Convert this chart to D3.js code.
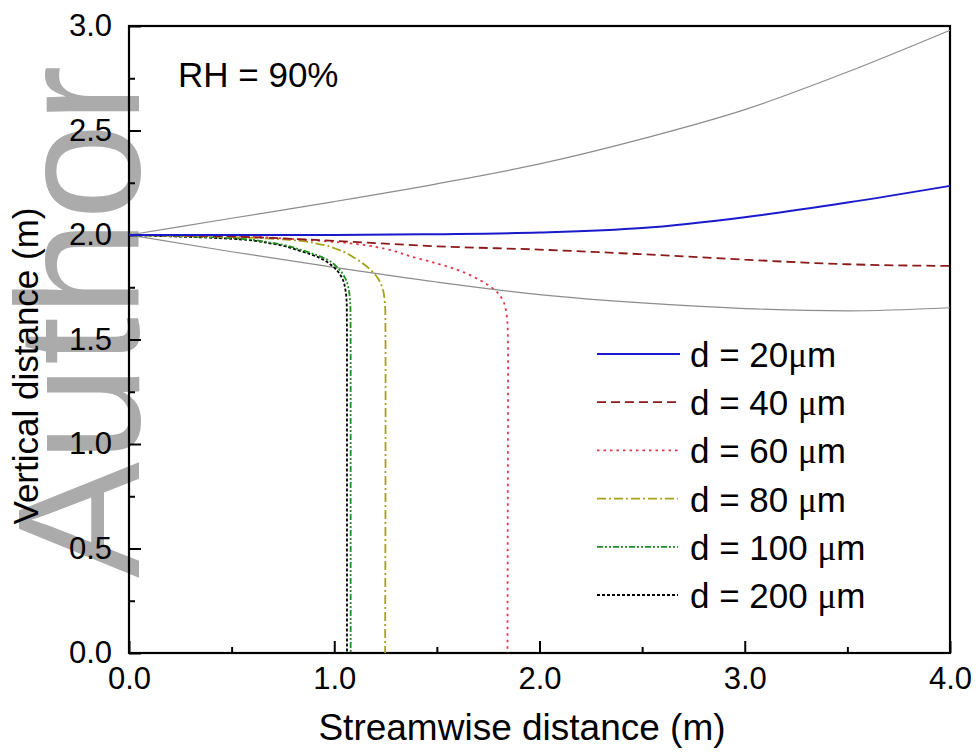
<html>
 <head>
  <meta charset="utf-8">
  <title>RH 90%</title>
  <script src="https://cdn.jsdelivr.net/npm/d3@7"></script>
  <style>
    body { margin: 0; background: #fff; font-family: "Liberation Sans", Arial, sans-serif; }
    svg text { font-family: "Liberation Sans", Arial, sans-serif; }
  </style>
 </head>
 <body>
  <div id="draw"></div>
  <script>
    // upper / lower gray bounds
    var upperX = [0, 0.5, 1.0, 1.5, 2.0, 2.5, 3.0, 3.5, 4.0];
    var upperY = [2.0, 2.08, 2.16, 2.245, 2.34, 2.46, 2.6, 2.78, 2.98];
    var lowerX = [0, 0.5, 1.0, 1.5, 2.0, 2.5, 3.0, 3.5, 4.0];
    var lowerY = [2.0, 1.92, 1.845, 1.775, 1.715, 1.675, 1.648, 1.637, 1.652];

    // trajectories per droplet size
    var sizes = ["d = 20", "d = 40 ", "d = 60 ", "d = 80 ", "d = 100 ", "d = 200 "];
    var d20x = [0, 0.5, 1.0, 1.5, 2.0, 2.5, 3.0, 3.5, 4.0];
    var d20y = [2.0, 2.0, 2.0, 2.004, 2.012, 2.033, 2.085, 2.155, 2.235];
    var d40x = [0, 0.5, 1.0, 1.5, 2.0, 2.5, 3.0, 3.5, 4.0];
    var d40y = [2.0, 1.993, 1.972, 1.946, 1.93, 1.908, 1.882, 1.86, 1.852];
    var d60x = [0, 0.5, 0.8, 1.08, 1.4, 1.6, 1.72, 1.785, 1.82, 1.838, 1.845, 1.847, 1.846, 1.844];
    var d60y = [2.0, 1.995, 1.98, 1.96, 1.89, 1.833, 1.778, 1.735, 1.69, 1.63, 1.55, 1.4, 1.0, 0];
    var d80x = [0, 0.5, 0.8, 0.92, 1.02, 1.1, 1.16, 1.2, 1.228, 1.243, 1.249, 1.25, 1.248];
    var d80y = [2.0, 1.99, 1.975, 1.958, 1.93, 1.89, 1.848, 1.81, 1.765, 1.71, 1.62, 1.3, 0];
    var d100x = [0, 0.5, 0.7, 0.85, 0.96, 1.02, 1.055, 1.072, 1.079, 1.08, 1.08];
    var d100y = [2.0, 1.985, 1.962, 1.925, 1.885, 1.84, 1.79, 1.73, 1.64, 1.4, 0];
    var d200x = [0, 0.5, 0.7, 0.83, 0.93, 0.995, 1.035, 1.054, 1.061, 1.062, 1.062];
    var d200y = [2.0, 1.982, 1.958, 1.925, 1.89, 1.848, 1.8, 1.74, 1.66, 1.4, 0];

    var xMajor = [0, 1, 2, 3, 4];
    var xMinor = [0.5, 1.5, 2.5, 3.5];
    var yMajor = [0, 0.5, 1, 1.5, 2, 2.5, 3];
    var yMinor = [0.25, 0.75, 1.25, 1.75, 2.25, 2.75];

    var colors = ["#1a1acc", "#8b1a1a", "#e8334a", "#a3a31a", "#1f8f1f", "#000000"];
    var dashes = ["none", "9,5", "2.5,4", "9,3,2,3", "6,2,2,2,2,2", "3,2"];

    var W = 979, H = 754;
    var L = 129, R = 950, T = 26, B = 653;

    var svg = d3.select('#draw').append('svg').attr('width', W).attr('height', H);

    // watermark behind everything
    svg.append('text')
      .attr('transform', 'translate(139,578) rotate(-90)')
      .attr('font-size', 174)
      .attr('fill', '#ababab')
      .text('Author');

    var x = d3.scaleLinear().domain([0, 4]).range([L, R]);
    var y = d3.scaleLinear().domain([0, 3]).range([B, T]);

    var fmt = d3.format('.1f');

    // minor ticks
    svg.append('g').attr('transform', 'translate(0,' + B + ')')
      .call(d3.axisBottom(x).tickValues(xMinor).tickSizeInner(-6).tickSizeOuter(0).tickFormat(''))
      .call(g => g.select('.domain').remove())
      .selectAll('line').attr('stroke-width', 2);
    svg.append('g').attr('transform', 'translate(' + L + ',0)')
      .call(d3.axisLeft(y).tickValues(yMinor).tickSizeInner(-6).tickSizeOuter(0).tickFormat(''))
      .call(g => g.select('.domain').remove())
      .selectAll('line').attr('stroke-width', 2);

    var xa = svg.append('g').attr('transform', 'translate(0,' + B + ')')
      .call(d3.axisBottom(x).tickValues(xMajor).tickSizeInner(-12).tickSizeOuter(0).tickPadding(14).tickFormat(fmt));
    var ya = svg.append('g').attr('transform', 'translate(' + L + ',0)')
      .call(d3.axisLeft(y).tickValues(yMajor).tickSizeInner(-12).tickSizeOuter(0).tickPadding(17).tickFormat(fmt));
    [xa, ya].forEach(function(a) {
      a.selectAll('text').attr('font-size', 31).attr('fill', '#000')
        .attr('font-family', '"Liberation Sans", Arial, sans-serif');
      a.selectAll('line').attr('stroke-width', 2);
      a.select('.domain').remove();
    });

    // frame
    svg.append('rect').attr('x', L).attr('y', T).attr('width', R - L).attr('height', B - T)
      .attr('fill', 'none').attr('stroke', '#000').attr('stroke-width', 2.2);

    var lineX = d3.line().x(d => x(d[0])).y(d => y(d[1])).curve(d3.curveMonotoneX);
    var lineY = d3.line().x(d => x(d[0])).y(d => y(d[1])).curve(d3.curveMonotoneY);
    function pts(xs, ys) { return xs.map((v, i) => [v, ys[i]]); }

    var plot = svg.append('g');
    plot.append('path').attr('d', lineX(pts(upperX, upperY)))
      .attr('fill', 'none').attr('stroke', '#8c8c8c').attr('stroke-width', 1.2);
    plot.append('path').attr('d', lineX(pts(lowerX, lowerY)))
      .attr('fill', 'none').attr('stroke', '#8c8c8c').attr('stroke-width', 1.2);

    var series = [pts(d20x, d20y), pts(d40x, d40y), pts(d60x, d60y),
                  pts(d80x, d80y), pts(d100x, d100y), pts(d200x, d200y)];
    series.slice().reverse().forEach(function(s, j) {
      var i = series.length - 1 - j;
      var gen = i < 2 ? lineX : lineY;
      plot.append('path').attr('d', gen(s))
        .attr('fill', 'none').attr('stroke', colors[i])
        .attr('stroke-width', i === 0 ? 2 : 1.8)
        .attr('stroke-dasharray', dashes[i]);
    });

    // RH label
    svg.append('text').attr('x', 178).attr('y', 87).attr('font-size', 35).text('RH = 90%');

    // legend
    var leg = svg.append('g');
    sizes.forEach(function(s, i) {
      var ly = 354 + i * 48.2;
      leg.append('line').attr('x1', 597).attr('x2', i === 0 ? 680 : 678).attr('y1', ly).attr('y2', ly)
        .attr('stroke', colors[i]).attr('stroke-width', 1.8).attr('stroke-dasharray', dashes[i]);
      var t = leg.append('text').attr('x', 690).attr('y', ly + 13).attr('font-size', 35);
      t.append('tspan').text(s);
      t.append('tspan').attr('font-family', '"Liberation Serif", "Times New Roman", serif').text('\u03bc');
      t.append('tspan').text('m');
    });

    // axis titles
    svg.append('text').attr('x', 522).attr('y', 740).attr('text-anchor', 'middle')
      .attr('font-size', 37).text('Streamwise distance (m)');
    svg.append('text').attr('transform', 'translate(38,366) rotate(-90)').attr('text-anchor', 'middle')
      .attr('font-size', 35).text('Vertical distance (m)');
  </script>
 </body>
</html>
